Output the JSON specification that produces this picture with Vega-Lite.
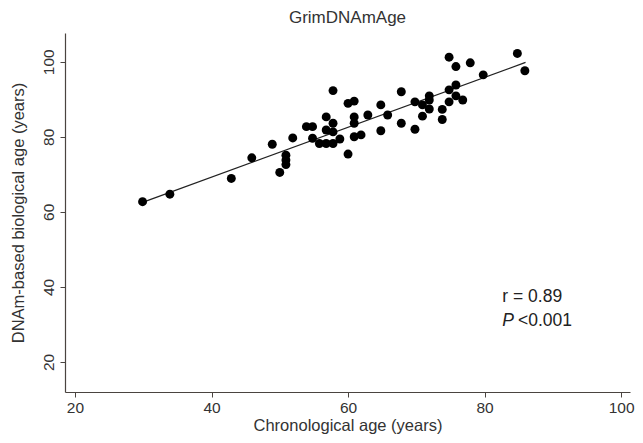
{
  "$schema": "https://vega.github.io/schema/vega-lite/v6.json",
  "width": 565,
  "height": 359,
  "autosize": {"type": "none"},
  "padding": {"left": 65, "top": 33, "right": 13, "bottom": 51},
  "background": "white",
  "config": {
    "font": "Liberation Sans",
    "view": {"stroke": null},
    "axis": {"grid": false, "domainColor": "#4a4440", "tickColor": "#4a4440", "labelColor": "#333", "titleColor": "#333", "labelFontSize": 15.5, "titleFontSize": 16.5, "titleFontWeight": "normal", "tickSize": 5, "domainWidth": 1.2}
  },
  "title": {"text": "GrimDNAmAge", "fontSize": 17, "fontWeight": "normal", "color": "#333", "font": "Liberation Sans", "offset": 6},
  "datasets": {
    "pts": [
      {"age": 29.9, "bio": 62.7}, {"age": 33.9, "bio": 64.7}, {"age": 42.9, "bio": 68.9}, {"age": 45.9, "bio": 74.4},
      {"age": 48.9, "bio": 78.0}, {"age": 51.9, "bio": 79.7}, {"age": 50.9, "bio": 75.1}, {"age": 50.9, "bio": 73.8},
      {"age": 50.9, "bio": 72.6}, {"age": 50.0, "bio": 70.5},
      {"age": 57.8, "bio": 92.3}, {"age": 60.0, "bio": 88.9}, {"age": 60.9, "bio": 89.5}, {"age": 53.9, "bio": 82.7},
      {"age": 54.8, "bio": 82.7}, {"age": 56.8, "bio": 85.3}, {"age": 57.8, "bio": 83.6}, {"age": 56.8, "bio": 81.8},
      {"age": 57.8, "bio": 81.3}, {"age": 54.8, "bio": 79.6}, {"age": 55.8, "bio": 78.2}, {"age": 56.8, "bio": 78.2},
      {"age": 57.8, "bio": 78.2}, {"age": 58.8, "bio": 79.4}, {"age": 60.0, "bio": 75.4}, {"age": 60.9, "bio": 85.3},
      {"age": 60.9, "bio": 83.6}, {"age": 60.9, "bio": 80.0}, {"age": 61.9, "bio": 80.5}, {"age": 62.9, "bio": 85.8},
      {"age": 64.8, "bio": 88.5}, {"age": 65.8, "bio": 85.8}, {"age": 64.8, "bio": 81.6}, {"age": 67.8, "bio": 92.0},
      {"age": 67.8, "bio": 83.6}, {"age": 69.8, "bio": 89.3}, {"age": 69.8, "bio": 82.0}, {"age": 70.9, "bio": 88.5},
      {"age": 71.9, "bio": 90.9}, {"age": 71.9, "bio": 89.8}, {"age": 71.9, "bio": 87.4}, {"age": 70.9, "bio": 85.5},
      {"age": 73.8, "bio": 87.3}, {"age": 73.8, "bio": 84.6}, {"age": 74.8, "bio": 92.5}, {"age": 75.8, "bio": 93.8},
      {"age": 74.8, "bio": 89.3}, {"age": 75.8, "bio": 90.9}, {"age": 76.8, "bio": 89.8}, {"age": 74.8, "bio": 101.2},
      {"age": 75.8, "bio": 98.7}, {"age": 77.9, "bio": 99.7}, {"age": 79.8, "bio": 96.5}, {"age": 84.8, "bio": 102.2},
      {"age": 85.9, "bio": 97.6}
    ],
    "fit": [{"age": 30, "bio": 62.6}, {"age": 86, "bio": 99.8}],
    "notes": [
      {"age": 82.6, "bio": 37.4, "label": "r = 0.89"},
      {"age": 84.9, "bio": 31.0, "label": "<0.001"}
    ],
    "italic": [
      {"age": 82.6, "bio": 31.0, "label": "P"}
    ]
  },
  "encoding": {
    "x": {"field": "age", "type": "quantitative", "scale": {"domain": [18.54, 101.3], "nice": false, "zero": false},
      "axis": {"values": [20, 40, 60, 80, 100], "title": "Chronological age (years)", "labelPadding": 3, "titlePadding": 2}},
    "y": {"field": "bio", "type": "quantitative", "scale": {"domain": [12, 107.65], "nice": false, "zero": false},
      "axis": {"values": [20, 40, 60, 80, 100], "title": "DNAm-based biological age (years)", "labelAngle": -90, "labelAlign": "center", "labelBaseline": "bottom", "labelPadding": 4, "titlePadding": 15}}
  },
  "layer": [
    {"data": {"name": "fit"}, "mark": {"type": "line", "color": "#222", "strokeWidth": 1.3}},
    {"data": {"name": "pts"}, "mark": {"type": "circle", "color": "black", "opacity": 1, "size": 80}},
    {"data": {"name": "notes"}, "mark": {"type": "text", "align": "left", "baseline": "middle", "fontSize": 17.5, "color": "#222"},
      "encoding": {"text": {"field": "label"}}},
    {"data": {"name": "italic"}, "mark": {"type": "text", "align": "left", "baseline": "middle", "fontSize": 17.5, "fontStyle": "italic", "color": "#222"},
      "encoding": {"text": {"field": "label"}}}
  ]
}
